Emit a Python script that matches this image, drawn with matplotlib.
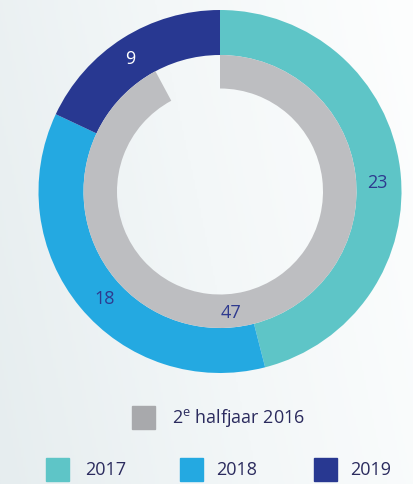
import numpy as np
import matplotlib.pyplot as plt
from matplotlib.colors import LinearSegmentedColormap

plt.rcParams['font.family'] = ['Open Sans', 'DejaVu Sans']
plt.rcParams['mathtext.fontset'] = 'custom'
plt.rcParams['mathtext.rm'] = 'Open Sans'

# data
years = ["2017", "2018", "2019"]
year_values = [23, 18, 9]
inner_label = "2$^{\\mathrm{e}}$ halfjaar 2016"
inner_values = [47, 4]  # second part is the open gap

teal, blue, navy, grey = "#5EC5C7", "#24A9E1", "#283891", "#BDBEC1"
legend_grey = "#A8A9AC"
text_col = "#2B2B5E"
num_col = "#2E3A8F"

W, H = 414, 484
fig = plt.figure(figsize=(W / 100, H / 100), dpi=100)

# background gradient
bg = fig.add_axes([0, 0, 1, 1], zorder=-10)
cmap = LinearSegmentedColormap.from_list("bg", ["#E6EDEF", "#F3F7F8", "#FDFEFE"])
gx, gy = np.meshgrid(np.linspace(0, 1, 200), np.linspace(0, 1, 200))
bg.imshow(0.8 * gx + 0.2 * (1 - gy), cmap=cmap, aspect="auto", extent=[0, 1, 0, 1])
bg.axis("off")

# donut
cx, cy, R = 220, 191.5, 181.5
ax = fig.add_axes([(cx - R) / W, (H - cy - R) / H, 2 * R / W, 2 * R / H])
ax.pie(year_values, radius=1, startangle=90, counterclock=False,
       colors=[teal, blue, navy], wedgeprops=dict(width=45 / R, linewidth=0))
r_in = 136.5 / R
ax.pie(inner_values, radius=r_in, startangle=90, counterclock=False,
       colors=[grey, (0, 0, 0, 0)], wedgeprops=dict(width=33.5 / R, linewidth=0))
ax.set_xlim(-1, 1)
ax.set_ylim(-1, 1)
ax.set_aspect("equal")
ax.axis("off")

# value labels (angle clockwise from top, radius in px)
label_spots = [(87, 158), (227, 158), (326, 160)]
for v, col, (deg, rp) in zip(year_values, [num_col, num_col, "white"], label_spots):
    a = np.deg2rad(deg)
    ax.text(rp / R * np.sin(a), rp / R * np.cos(a), str(v), ha="center", va="center",
            fontsize=13, color=col)
a47 = np.deg2rad(175)
ax.text(122 / R * np.sin(a47), 122 / R * np.cos(a47), str(inner_values[0]),
        ha="center", va="center", fontsize=13, color=num_col)

# legend
def square(x, y, col):
    fig.patches.append(plt.Rectangle((x / W, 1 - (y + 23) / H), 23 / W, 23 / H,
                                     transform=fig.transFigure, color=col, figure=fig))

square(132, 406, legend_grey)
fig.text(172 / W, 1 - 418 / H, inner_label, ha="left", va="center",
         fontsize=13, color=text_col)
for x0, tx, lab, col in zip([46, 180, 314], [85, 216, 350], years, [teal, blue, navy]):
    square(x0, 458, col)
    fig.text(tx / W, 1 - 470 / H, lab, ha="left", va="center", fontsize=13, color=text_col)

fig.savefig("out.png", dpi=100)
